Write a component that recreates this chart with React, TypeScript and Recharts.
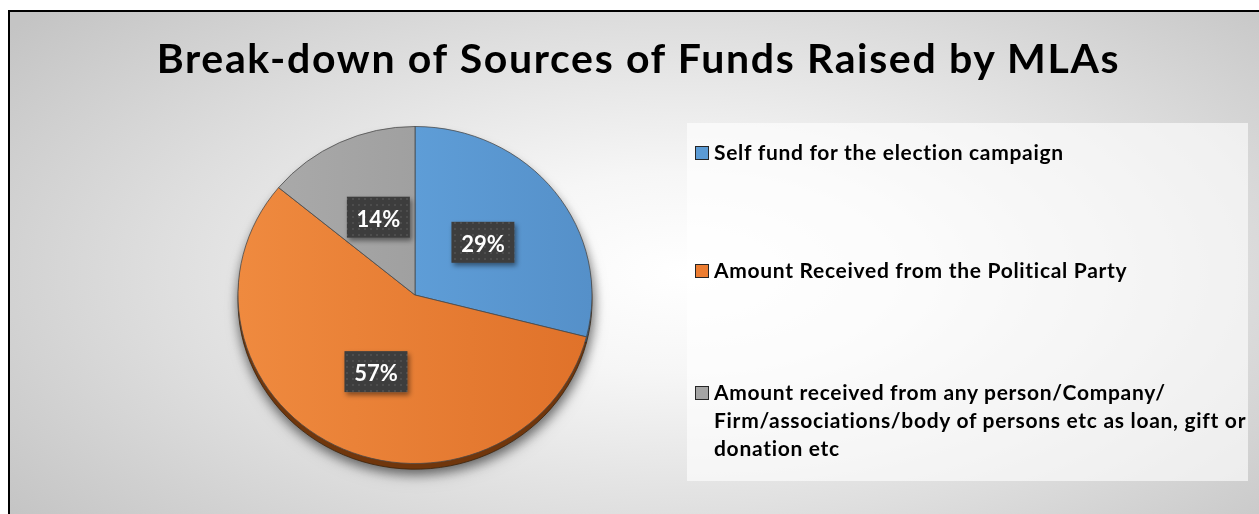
import React from 'react';
import { PieChart, Pie, Cell, Legend } from 'recharts';

const categories = [
  'Self fund for the election campaign',
  'Amount Received from the Political Party',
  'Amount received from any person/Company/Firm/associations/body of persons etc as loan, gift or donation etc',
];
const values = [29, 57, 14];
const legendLines = [
  ['Self fund for the election campaign'],
  ['Amount Received from the Political Party'],
  [
    'Amount received from any person/Company/',
    'Firm/associations/body of persons etc as loan, gift or',
    'donation etc',
  ],
];
const title = 'Break-down of Sources of Funds Raised by MLAs';

const data = categories.map((name, i) => ({ name, value: values[i] }));

const FILLS = ['url(#gBlue)', 'url(#gOrange)', 'url(#gGray)'];
const SWATCH = ['#5b9bd5', '#ed7d31', '#a5a5a5'];
const RIM = ['#2f5f8c', '#70360c', '#5f5f5f'];

const W = 1251;
const H = 504;
const CX = 407;
const CY = 285;
const R = 177;
const RADIAN = Math.PI / 180;

const FONT = 'Lato, "Open Sans", sans-serif';

function renderLabel(props: any) {
  const { cx, cy, midAngle, percent } = props;
  const r = 86;
  const x = cx + r * Math.cos(-midAngle * RADIAN);
  const y = cy + r * Math.sin(-midAngle * RADIAN);
  return (
    <g>
      <rect x={x - 31.5} y={y - 20.5} width={63} height={41} fill="url(#dots)" filter="url(#lblShadow)" />
      <text
        x={x}
        y={y + 1}
        textAnchor="middle"
        dominantBaseline="central"
        fill="#ffffff"
        fontFamily={FONT}
        fontWeight={700}
        fontSize={22}
      >
        {Math.round(percent * 100)}%
      </text>
    </g>
  );
}

const itemTops = [15, 133, 255];

function renderLegend() {
  return (
    <div
      style={{
        position: 'relative',
        width: 561,
        height: 358,
        background: 'rgba(255,255,255,0.62)',
        fontFamily: FONT,
        fontWeight: 700,
        fontSize: 21,
        letterSpacing: '0.7px',
        lineHeight: '28px',
        color: '#000',
      }}
    >
      {categories.map((name, i) => (
        <div key={name} style={{ position: 'absolute', left: 0, top: itemTops[i], width: 561 }}>
          <div
            style={{
              position: 'absolute',
              left: 8,
              top: 8,
              width: 12,
              height: 12,
              background: SWATCH[i],
              border: '1px solid #262626',
            }}
          />
          <div style={{ marginLeft: 27, whiteSpace: 'nowrap' }}>
            {(legendLines[i] || [name]).map((ln, j) => (
              <div key={j}>{ln}</div>
            ))}
          </div>
        </div>
      ))}
    </div>
  );
}

export default function App() {
  return (
    <div
      style={{
        position: 'fixed',
        left: 8,
        top: 10,
        width: W,
        height: H,
        borderLeft: '2px solid #000',
        borderTop: '2px solid #000',
        boxSizing: 'border-box',
        background:
          'radial-gradient(ellipse 68% 80% at 54% 52%, #ffffff 0%, #f6f6f6 25%, #dedede 62%, #c4c4c4 100%)',
        overflow: 'hidden',
      }}
    >
      <style>{`
        .pie-face .recharts-sector, .pie-rim .recharts-sector {
          transform-origin: ${CX}px ${CY}px;
          transform: scaleY(0.952);
        }
        .pie-rim { filter: drop-shadow(1px 4px 6px rgba(0,0,0,0.35)); }
      `}</style>
      <div
        style={{
          position: 'absolute',
          left: 0,
          top: 22,
          width: W,
          textAlign: 'center',
          fontFamily: FONT,
          fontWeight: 700,
          fontSize: 41,
          letterSpacing: '1.65px',
          lineHeight: '48px',
          color: '#000',
          paddingLeft: 6,
          boxSizing: 'border-box',
        }}
      >
        {title}
      </div>
      <div style={{ position: 'absolute', left: -2, top: -2 }}>
        <PieChart width={W} height={H} margin={{ top: 0, right: 0, bottom: 0, left: 0 }}>
          <defs>
            <linearGradient id="gBlue" x1="0" y1="0" x2="1" y2="0">
              <stop offset="0%" stopColor="#5e9dd7" />
              <stop offset="100%" stopColor="#5590c9" />
            </linearGradient>
            <linearGradient id="gOrange" x1="0" y1="0" x2="1" y2="0">
              <stop offset="0%" stopColor="#ef8a3f" />
              <stop offset="100%" stopColor="#e0722a" />
            </linearGradient>
            <linearGradient id="gGray" x1="0" y1="0" x2="1" y2="0">
              <stop offset="0%" stopColor="#a9a9a9" />
              <stop offset="100%" stopColor="#a0a0a0" />
            </linearGradient>
            <pattern id="dots" x="0" y="0" width="6" height="6" patternUnits="userSpaceOnUse">
              <rect x="0" y="0" width="6" height="6" fill="#3d3d3d" />
              <rect x="2" y="2" width="2" height="2" fill="#4e4e4e" />
            </pattern>
            <filter id="lblShadow" x="-30%" y="-30%" width="160%" height="160%">
              <feDropShadow dx="2" dy="3" stdDeviation="2.5" floodColor="#000" floodOpacity="0.45" />
            </filter>
          </defs>
          <Pie
            className="pie-rim"
            data={data}
            dataKey="value"
            nameKey="name"
            cx={CX}
            cy={CY + 6}
            outerRadius={R}
            startAngle={90}
            endAngle={-270}
            stroke="#3a2008"
            strokeWidth={0.8}
            isAnimationActive={false}
            legendType="none"
          >
            {data.map((d, i) => (
              <Cell key={i} fill={RIM[i]} />
            ))}
          </Pie>
          <Pie
            className="pie-face"
            data={data}
            dataKey="value"
            nameKey="name"
            cx={CX}
            cy={CY}
            outerRadius={R}
            startAngle={90}
            endAngle={-270}
            stroke="#4a4a4a"
            strokeWidth={0.8}
            isAnimationActive={false}
            label={renderLabel}
            labelLine={false}
          >
            {data.map((d, i) => (
              <Cell key={i} fill={FILLS[i]} />
            ))}
          </Pie>
          <Legend
            content={renderLegend}
            wrapperStyle={{ position: 'absolute', left: 679, top: 113, width: 561, height: 358 }}
          />
        </PieChart>
      </div>
    </div>
  );
}
